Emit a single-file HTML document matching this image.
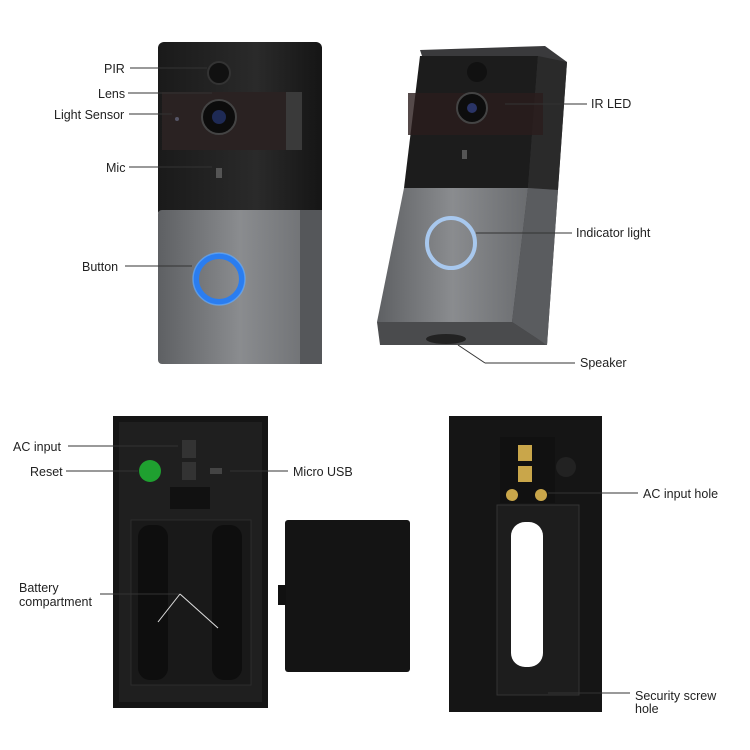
<!DOCTYPE html>
<html><head><style>
body{margin:0;background:#fff;}
svg{display:block}
text{font-family:"Liberation Sans",sans-serif;font-size:12.5px;fill:#222}
</style></head><body>
<svg width="750" height="750" viewBox="0 0 750 750">
<defs>
<linearGradient id="gr" x1="0" x2="1"><stop offset="0" stop-color="#5e6063"/><stop offset="0.5" stop-color="#8a8c8f"/><stop offset="1" stop-color="#6a6c6f"/></linearGradient>
<linearGradient id="bk" x1="0" x2="1"><stop offset="0" stop-color="#1a1a1a"/><stop offset="0.6" stop-color="#2a2a2a"/><stop offset="1" stop-color="#151515"/></linearGradient>
</defs>
<!-- top-left doorbell -->
<rect x="158" y="42" width="164" height="175" rx="6" fill="url(#bk)"/>
<rect x="162" y="92" width="140" height="58" fill="#2a2222"/>
<rect x="286" y="92" width="16" height="58" fill="#3a3a3a"/>
<rect x="158" y="210" width="164" height="154" rx="4" fill="url(#gr)"/>
<rect x="300" y="210" width="22" height="154" fill="#55575a"/>
<circle cx="219" cy="73" r="11" fill="#111" stroke="#333" stroke-width="2"/>
<circle cx="219" cy="117" r="17" fill="#0c0c0c" stroke="#444" stroke-width="2"/>
<circle cx="219" cy="117" r="7" fill="#1e2a55"/>
<circle cx="177" cy="119" r="2" fill="#556"/>
<rect x="216" y="168" width="6" height="10" fill="#555"/>
<circle cx="219" cy="279" r="23" fill="none" stroke="#2a7df0" stroke-width="6"/>
<circle cx="219" cy="279" r="26" fill="none" stroke="#6ab0ff" stroke-width="1.5" opacity="0.6"/>
<g stroke="#333" stroke-width="1">
<line x1="130" y1="68" x2="207" y2="68"/><line x1="128" y1="93" x2="212" y2="93"/>
<line x1="129" y1="114" x2="172" y2="114"/><line x1="129" y1="167" x2="212" y2="167"/>
<line x1="125" y1="266" x2="192" y2="266"/>
</g>
<text x="104" y="73">PIR</text><text x="98" y="98">Lens</text><text x="54" y="119">Light Sensor</text>
<text x="106" y="172">Mic</text><text x="82" y="271">Button</text>
<!-- top-right doorbell -->
<polygon points="420,50 545,46 567,62 547,345 510,322" fill="#3a3a3c"/>
<polygon points="420,56 538,56 528,188 404,188" fill="#1c1c1c"/>
<polygon points="404,188 528,188 512,322 377,322" fill="url(#gr)"/>
<polygon points="538,56 567,62 558,190 528,188" fill="#2a2a2a"/>
<polygon points="528,188 558,190 547,345 512,322" fill="#5a5c5f"/>
<polygon points="377,322 512,322 547,345 380,345" fill="#4a4b4d"/>
<rect x="408" y="93" width="135" height="42" fill="#2a1d1d" opacity="0.8"/>
<circle cx="477" cy="72" r="10" fill="#111"/>
<circle cx="472" cy="108" r="15" fill="#0d0d0d" stroke="#444" stroke-width="2"/>
<circle cx="472" cy="108" r="5" fill="#2a3466"/>
<rect x="462" y="150" width="5" height="9" fill="#555"/>
<ellipse cx="451" cy="243" rx="24" ry="25" fill="none" stroke="#a8c8ee" stroke-width="4"/>
<ellipse cx="446" cy="339" rx="20" ry="5" fill="#222"/>
<g stroke="#333" stroke-width="1">
<line x1="505" y1="104" x2="587" y2="104"/><line x1="476" y1="233" x2="572" y2="233"/>
<line x1="458" y1="345" x2="485" y2="363"/><line x1="485" y1="363" x2="575" y2="363"/>
</g>
<text x="591" y="108">IR LED</text><text x="576" y="237">Indicator light</text><text x="580" y="367">Speaker</text>
<!-- bottom-left back -->
<rect x="113" y="416" width="155" height="292" fill="#151515"/>
<rect x="119" y="422" width="143" height="280" fill="#1f1f1f"/>
<rect x="170" y="487" width="40" height="22" fill="#111"/>
<rect x="131" y="520" width="120" height="165" fill="#191919" stroke="#2c2c2c"/>
<rect x="138" y="525" width="30" height="155" rx="12" fill="#0e0e0e"/>
<rect x="212" y="525" width="30" height="155" rx="12" fill="#0e0e0e"/>
<rect x="182" y="440" width="14" height="18" fill="#333"/><rect x="182" y="462" width="14" height="18" fill="#333"/>
<rect x="210" y="468" width="12" height="6" fill="#444"/>
<circle cx="150" cy="471" r="11" fill="#1fa030"/>
<g stroke="#333" stroke-width="1">
<line x1="68" y1="446" x2="178" y2="446"/><line x1="66" y1="471" x2="138" y2="471"/>
<line x1="230" y1="471" x2="288" y2="471"/>
<line x1="100" y1="594" x2="180" y2="594"/><line x1="180" y1="594" x2="158" y2="622"/><line x1="180" y1="594" x2="218" y2="628"/>
</g>
<g stroke="#ddd" stroke-width="1"><line x1="180" y1="594" x2="158" y2="622"/><line x1="180" y1="594" x2="218" y2="628"/></g>
<text x="13" y="451">AC input</text><text x="30" y="476">Reset</text><text x="293" y="476">Micro USB</text>
<text x="19" y="592">Battery</text><text x="19" y="606">compartment</text>
<!-- cover -->
<rect x="285" y="520" width="125" height="152" rx="3" fill="#141414"/>
<rect x="278" y="585" width="8" height="20" fill="#111"/>
<!-- bottom-right plate -->
<rect x="449" y="416" width="153" height="296" fill="#151515"/>
<rect x="497" y="505" width="82" height="190" fill="#1d1d1d" stroke="#333"/>
<rect x="511" y="522" width="32" height="145" rx="14" fill="#fff"/>
<rect x="500" y="437" width="55" height="66" fill="#111"/>
<rect x="518" y="445" width="14" height="16" fill="#c9a64a"/><rect x="518" y="466" width="14" height="16" fill="#c9a64a"/>
<circle cx="512" cy="495" r="6" fill="#c9a64a"/><circle cx="541" cy="495" r="6" fill="#c9a64a"/>
<circle cx="566" cy="467" r="10" fill="#222"/>
<g stroke="#333" stroke-width="1">
<line x1="548" y1="493" x2="638" y2="493"/><line x1="548" y1="693" x2="630" y2="693"/>
</g>
<text x="643" y="498">AC input hole</text>
<text x="635" y="700">Security screw</text><text x="635" y="713">hole</text>
</svg>
</body></html>
